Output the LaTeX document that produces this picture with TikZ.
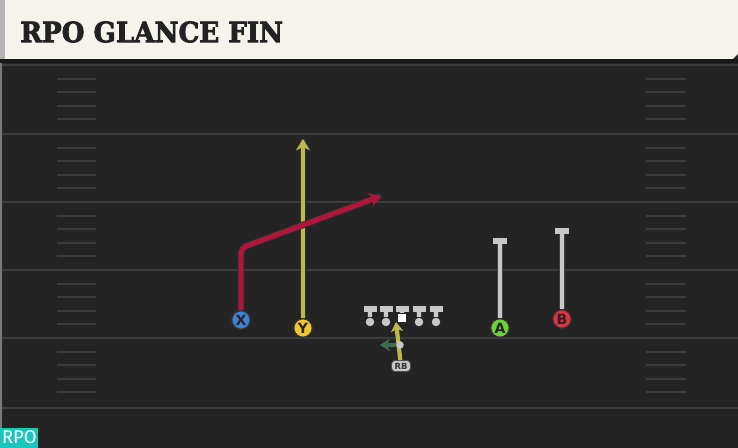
\documentclass[tikz,border=0pt]{standalone}
\usepackage{fontspec}
\setmainfont{DejaVu Sans}
\newfontfamily\titlefont[FakeStretch=0.93, BoldFont={DejaVu Serif Bold},
  BoldFeatures={FakeBold=2.6}]{DejaVu Serif}
\newfontfamily\tagfont{Fira Sans}
\usetikzlibrary{arrows.meta}

\definecolor{fieldgray}{HTML}{242424}
\definecolor{linegray}{HTML}{3C3C3C}
\definecolor{bannercream}{HTML}{F5F3EC}
\definecolor{bannerstrip}{HTML}{B4B4B4}
\definecolor{titleink}{HTML}{222222}
\definecolor{routered}{HTML}{B3143B}
\definecolor{routeyellow}{HTML}{BDB84C}
\definecolor{blockgray}{HTML}{C8C8C8}
\definecolor{xblue}{HTML}{3F7FD8}
\definecolor{yyellow}{HTML}{F2C530}
\definecolor{agreen}{HTML}{6DD13A}
\definecolor{bred}{HTML}{E0323F}
\definecolor{motiongreen}{HTML}{3E6B50}
\definecolor{tagteal}{HTML}{1CC6BE}

\begin{document}
\begin{tikzpicture}[x=0.02cm, y=-0.02cm,
  yardline/.style = {draw=linegray, line width=1.5pt},
  hashmark/.style = {draw=linegray, line width=1.1pt},
  player/.style = {circle, draw=black!80, line width=0.7pt, inner sep=0pt,
    minimum size=0.37cm, text=black!85, font=\fontsize{8}{9}\selectfont\bfseries},
  lineman/.style = {circle, fill=blockgray, inner sep=0pt, minimum size=0.17cm},
  route/.style = {line width=2.8pt, line cap=butt,
    -{Stealth[length=6.5pt, width=8pt, inset=2pt]}},
  block/.style = {draw=blockgray, line width=2.8pt,
    preaction={draw=black!75, line width=3.8pt}},
  blockbar/.style = {draw=blockgray, line width=3pt}]

% field
\fill[fieldgray] (0,0) rectangle (738,448);
\useasboundingbox (0,0) rectangle (738,448);
\draw[bannerstrip!60!fieldgray, line width=1pt] (1,59) -- (1,448);
\foreach \y in {65,134,202,270,338,408}
  \draw[yardline] (2,\y) -- (738,\y);
\foreach \y in {65,134,202,270,338}
  \foreach \k in {1,...,4} {
    \draw[hashmark] (57,{\y+\k*13.6}) -- (96,{\y+\k*13.6});
    \draw[hashmark] (646,{\y+\k*13.6}) -- (686,{\y+\k*13.6});
  }

% title banner
\fill[black!90] (0,59) rectangle (738,63);
\fill[bannercream] (5,0) -- (738,0) -- (738,54) -- (733,59) -- (5,59) -- cycle;
\fill[bannerstrip] (0,0) rectangle (5,59);
\node[anchor=west, text=titleink, inner sep=0pt,
  font=\titlefont\fontsize{16}{18}\selectfont\bfseries] (title) at (20,32) {RPO GLANCE FIN};

% skill players
\node[player, fill=xblue] (X) at (241,320) {X};
\node[player, fill=yyellow] (Y) at (303,328) {Y};
\node[player, fill=agreen] (A) at (500,328) {A};
\node[player, fill=bred] (B) at (562,319) {B};

% routes
\coordinate (Ytop) at (303,139);
\draw[route, routeyellow, preaction={draw=black!80, line width=3.8pt, -}]
  (Y) -- (Ytop);
\coordinate (Xbreak) at (241,248);
\coordinate (Xend) at (381,196);
\draw[route, routered, rounded corners=3pt, preaction={draw=black!80, line width=3.8pt, -}]
  (X) -- (Xbreak) -- (Xend);

% A and B block
\coordinate (Atop) at (500,241);
\coordinate (Btop) at (562,231);
\draw[block] (A) -- (Atop);
\draw[blockbar] (Atop) ++(-7,0) -- ++(14,0);
\draw[block] (B) -- (Btop);
\draw[blockbar] (Btop) ++(-7,0) -- ++(14,0);

% offensive line
\foreach \x/\n in {370/lt,386/lg,419/rg,436/rt} {
  \node[lineman] (\n) at (\x,322) {};
  \coordinate (\n top) at (\x,309);
  \draw[block, preaction={}] (\n) -- (\n top);
  \draw[blockbar] (\n top) ++(-6.5,0) -- ++(13,0);
}
\node[rectangle, fill=white, inner sep=0pt, minimum size=0.17cm] (ctr) at (402,318) {};
\coordinate (ctrtop) at (402,309);
\draw[block, preaction={}] (ctr) -- (ctrtop);
\draw[blockbar] (ctrtop) ++(-6.5,0) -- ++(13,0);

% running back
\node[rectangle, rounded corners=2pt, fill=blockgray, draw=black!70, line width=0.5pt,
  minimum width=0.38cm, minimum height=0.22cm, inner sep=0pt,
  font=\fontsize{4.8}{5}\selectfont\bfseries, text=black!80] (RB) at (401,366) {RB};
\coordinate (RBhole) at (396,322);
\draw[route, routeyellow, line width=2.4pt, -{Stealth[length=5.5pt, width=7pt, inset=1.5pt]}]
  (RB) -- (RBhole);
\node[circle, fill=blockgray, inner sep=0pt, minimum size=0.15cm] (RBmesh) at (400,345) {};
\coordinate (RBflow) at (380,345);
\draw[motiongreen, line width=2.4pt, -{Stealth[length=5.5pt, width=7pt, inset=1.5pt]}]
  (RBmesh) -- (RBflow);

% tag
\node[anchor=south west, fill=tagteal, text=white, inner sep=0pt,
  minimum width=0.76cm, minimum height=0.4cm,
  font=\tagfont\fontsize{10.5}{12}\selectfont] (tag) at (0,448) {RPO};
\end{tikzpicture}
\end{document}
